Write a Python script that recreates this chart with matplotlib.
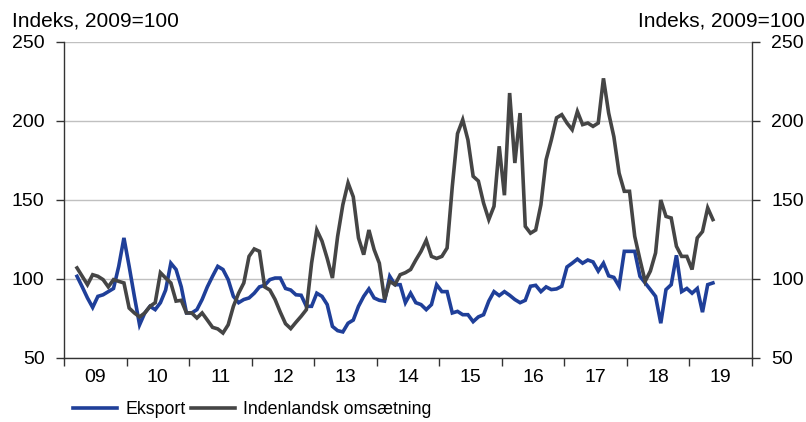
import matplotlib
matplotlib.use('Agg')
import matplotlib.pyplot as plt
from matplotlib.ticker import FixedLocator, NullFormatter, FixedFormatter

plt.rcParams['font.family'] = ['Liberation Sans', 'DejaVu Sans']

# --- data: monthly index, Mar 2009 .. May 2019 ---
eksport = [
    101.7, 95, 88, 82, 89, 90, 92, 94, 108, 126,
    108, 89, 71, 78.5, 82.7, 80.6, 85, 93, 110, 106,
    95, 78.5, 78.5, 80.6, 87, 95, 101.7, 108, 106, 99.6,
    89, 85, 87, 88, 91, 95, 96, 99.6, 100.6, 100.6,
    94, 93, 90, 89.7, 82.7, 82.7, 91, 89, 83.8, 70,
    67.3, 66.5, 72, 74, 82.7, 89, 93.7, 88, 86.5, 86,
    101.7, 96.4, 96.4, 85, 91, 85, 83.8, 80.6, 83.8, 96.4,
    92, 92, 78.5, 79.5, 77.4, 77.4, 73, 76, 77.4, 86,
    92, 89.5, 92, 89.7, 87, 85, 86.5, 95.4, 96, 92,
    95, 93.3, 93.7, 95.4, 107.6, 110, 112.6, 110, 112, 110.8,
    105, 110, 102, 101, 95.4, 117.5, 117.5, 117.5, 101.7, 97.5,
    93.3, 89, 72, 93.3, 96.4, 115, 92, 94, 91, 94,
    79, 96.4, 97.5,
]
indenlandsk = [
    107, 101.7, 96.4, 102.7, 101.7, 99.6, 95, 99.6, 98.5, 97.5,
    81.6, 78.5, 76, 78.5, 82.7, 85, 104, 100.6, 97.5, 86,
    86.5, 78.5, 78.5, 75.3, 78.5, 74, 69.4, 68.4, 65.8, 71,
    82.7, 91, 97.5, 114.3, 119, 117.5, 95, 93, 87, 79,
    71.7, 68.6, 72.6, 76.4, 80.6, 110, 131, 124, 113, 100.6,
    127, 147, 160.8, 152, 126, 115.4, 131, 118.6, 110, 87,
    98.5, 96.4, 102.7, 104, 106, 112, 117.5, 124.5, 114.3, 113,
    114.3, 119.6, 158.6, 192, 200.8, 188, 165, 162, 148, 137.6,
    146, 184, 153, 217.7, 173.4, 205, 133.3, 129, 131, 147,
    175.5, 188, 202, 204, 198.7, 194.5, 206, 197.7, 198.7, 196.6,
    198.7, 227, 205, 190, 167, 155.5, 155.5, 127, 112.3, 98.5,
    105, 116.5, 150, 139.6, 138.6, 120.7, 114.3, 114.3, 106, 126,
    130, 145, 137.6,
]
year_labels = ['09', '10', '11', '12', '13', '14', '15', '16', '17', '18', '19']
y_ticks = [50, 100, 150, 200, 250]

start_month = 2  # marts 2009
x = [start_month + 0.5 + i for i in range(len(eksport))]

fig = plt.figure(figsize=(8.06, 4.22), dpi=100)
ax = fig.add_axes([0.0794, 0.1517, 0.8536, 0.7488])

ax.plot(x, eksport, color='#1f3f99', lw=2.6, label='Eksport', solid_joinstyle='miter')
ax.plot(x, indenlandsk, color='#454545', lw=2.6, label='Indenlandsk omsætning',
        solid_joinstyle='miter')

ax.set_xlim(0, 12 * len(year_labels))
ax.set_ylim(50, 250)

# årsgrænser som ticks, labels midt i året
ax.xaxis.set_major_locator(FixedLocator([12 * i for i in range(len(year_labels) + 1)]))
ax.xaxis.set_major_formatter(NullFormatter())
ax.xaxis.set_minor_locator(FixedLocator([12 * i + 6 for i in range(len(year_labels))]))
ax.xaxis.set_minor_formatter(FixedFormatter(year_labels))
ax.tick_params(axis='x', which='major', direction='out', length=6, width=1, color='#333333')
ax.tick_params(axis='x', which='minor', length=0, labelsize=14, pad=8)

ax.set_yticks(y_ticks)
ax.tick_params(axis='y', direction='out', length=6, width=1, color='#333333',
               labelsize=14, pad=8, left=True, right=True, labelleft=True, labelright=True)

ax.grid(axis='y', color='#c0c0c0', lw=1)
ax.set_axisbelow(True)
ax.spines['top'].set_visible(False)
for side in ['left', 'right', 'bottom']:
    ax.spines[side].set_color('#333333')
    ax.spines[side].set_linewidth(1)

fig.text(0.0149, 1 - 26.5 / 422, 'Indeks, 2009=100', ha='left', va='baseline', fontsize=15)
fig.text(0.9988, 1 - 26.5 / 422, 'Indeks, 2009=100', ha='right', va='baseline', fontsize=15)

ax.legend(loc='center left', bbox_to_anchor=(73 / 806, 1 - 410 / 422),
          bbox_transform=fig.transFigure, ncol=2, frameon=False,
          fontsize=12.8, handlelength=2.5, handletextpad=0.45, columnspacing=0.28,
          borderpad=0, borderaxespad=0)

fig.savefig('out.png', dpi=100)
